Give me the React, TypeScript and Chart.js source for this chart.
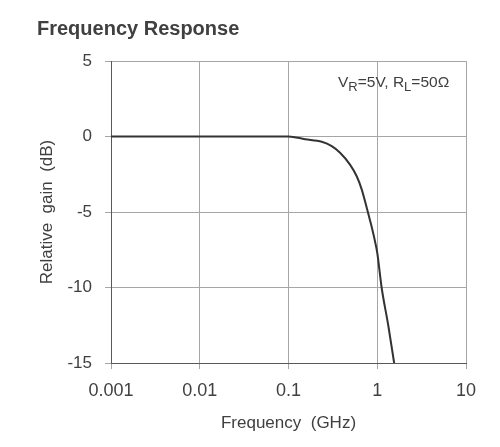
import React, { useEffect, useRef } from "react";
import { Chart, registerables } from "chart.js";

Chart.register(...registerables);

const freqGHz = [0.001, 0.01, 0.1, 0.154, 0.237, 0.307, 0.381, 0.493, 0.587, 0.668, 0.76, 0.85, 0.94, 1.0, 1.12, 1.33, 1.55];
const gainDb = [0, 0, 0, -0.18, -0.35, -0.64, -1.08, -1.86, -2.63, -3.5, -4.7, -5.8, -6.9, -7.7, -10.0, -12.5, -15.0];
const xTicks = [0.001, 0.01, 0.1, 1, 10];
const xTickLabels = ["0.001", "0.01", "0.1", "1", "10"];

const TEXT = "#404040";
const FONT = "'Liberation Sans', Arial, sans-serif";

const textPlugin = {
  id: "texts",
  afterDraw(chart: any) {
    const ctx = chart.ctx;
    ctx.save();
    ctx.fillStyle = TEXT;
    ctx.textBaseline = "alphabetic";
    ctx.textAlign = "left";
    ctx.font = `bold 20px ${FONT}`;
    ctx.fillText("Frequency Response", 37, 35);

    const parts: [string, boolean][] = [
      ["V", false], ["R", true], ["=5V, R", false], ["L", true], ["=50Ω", false],
    ];
    let x = 338;
    const base = 87;
    for (const [t, sub] of parts) {
      ctx.font = sub ? `13px ${FONT}` : `15.5px ${FONT}`;
      ctx.fillText(t, x, sub ? base + 4 : base);
      x += ctx.measureText(t).width;
    }
    ctx.restore();
  },
};

export default function App() {
  const ref = useRef<HTMLCanvasElement>(null);
  useEffect(() => {
    document.body.style.margin = "0";
    const chart = new Chart(ref.current!, {
      type: "line",
      data: {
        datasets: [
          {
            data: freqGHz.map((f, i) => ({ x: f, y: gainDb[i] })),
            borderColor: "#333333",
            borderWidth: 2,
            pointRadius: 0,
            cubicInterpolationMode: "monotone",
            fill: false,
          },
        ],
      },
      options: {
        animation: false,
        responsive: false,
        maintainAspectRatio: false,
        layout: { padding: { left: 0, right: 34, top: 61, bottom: 0 } },
        plugins: { legend: { display: false }, title: { display: false }, tooltip: { enabled: false } },
        scales: {
          x: {
            type: "logarithmic",
            min: 0.001,
            max: 10,
            afterBuildTicks: (scale: any) => {
              scale.ticks = xTicks.map((v) => ({ value: v }));
            },
            afterFit: (scale: any) => {
              scale.height = 84;
            },
            ticks: {
              autoSkip: false,
              maxRotation: 0,
              padding: 11,
              color: TEXT,
              font: { family: FONT, size: 18 },
              callback: (v: any) => {
                const i = xTicks.findIndex((t) => Math.abs(t - v) / t < 1e-6);
                return i >= 0 ? xTickLabels[i] : "";
              },
            },
            grid: { color: "#a6a6a6", lineWidth: 1, tickLength: 6, tickColor: "#a6a6a6" },
            border: { color: "#595959", width: 1 },
            title: {
              display: true,
              text: "Frequency  (GHz)",
              color: TEXT,
              font: { family: FONT, size: 17 },
              padding: { top: 0, bottom: 13 },
            },
          },
          y: {
            type: "linear",
            min: -15,
            max: 5,
            afterFit: (scale: any) => {
              scale.width = 111;
            },
            ticks: {
              stepSize: 5,
              padding: 13,
              color: TEXT,
              font: { family: FONT, size: 17 },
            },
            grid: { color: "#a6a6a6", lineWidth: 1, tickLength: 6, tickColor: "#a6a6a6" },
            border: { color: "#595959", width: 1 },
            title: {
              display: true,
              text: "Relative  gain  (dB)",
              color: TEXT,
              font: { family: FONT, size: 17 },
              padding: { top: 37, bottom: 0 },
            },
          },
        },
      },
      plugins: [textPlugin],
    } as any);
    return () => chart.destroy();
  }, []);
  return <canvas ref={ref} width={500} height={447} style={{ display: "block", width: 500, height: 447 }} />;
}
